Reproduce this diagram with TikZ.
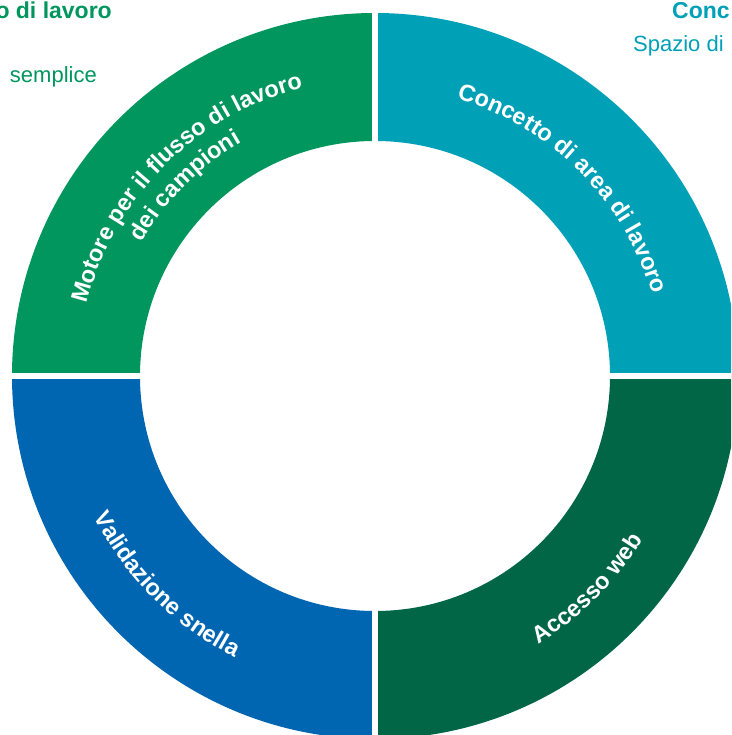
\documentclass[tikz,border=0pt]{standalone}
\usepackage{fontspec}
\setmainfont{Liberation Sans}
\usepackage{xcolor}
\usepackage{tikz}
\usetikzlibrary{decorations.text}
\definecolor{wfgreen}{RGB}{0,150,94}
\definecolor{wfteal}{RGB}{0,160,183}
\definecolor{wfdark}{RGB}{0,102,70}
\definecolor{wfblue}{RGB}{0,102,178}
\tikzstyle{gap}=[draw=white,line width=6pt]
\tikzstyle{headline}=[inner sep=0pt,font=\bfseries\fontsize{23}{27}\selectfont]
\tikzstyle{subline}=[inner sep=0pt,font=\fontsize{22}{26}\selectfont]
\newcommand{\ringfont}{\bfseries\fontsize{23.5}{28}\selectfont}
\tikzset{ringtext/.style={decorate,decoration={text along path,text align=center,text color=white,text={|\ringfont|#1}}}}

\begin{document}
\begin{tikzpicture}[x=1pt,y=1pt]

  \useasboundingbox (0,0) rectangle (731,735);
  \clip (0,0) rectangle (731,735);

  \def\R{363};
  \def\r{235};
  \coordinate (c) at (375,359);

  % quadrants of the ring
  \foreach \a/\col in {0/wfteal, 90/wfgreen, 180/wfblue, 270/wfdark}
     \fill[\col] ([shift={(c)}]\a:\R) arc[start angle=\a, delta angle=90, radius=\R]
        -- ([shift={(c)}]\a+90:\r) arc[start angle=\a+90, delta angle=-90, radius=\r] -- cycle;

  \draw[gap] ([shift={(c)}]180:380) -- ([shift={(c)}]0:380);
  \draw[gap] ([shift={(c)}]90:380) -- ([shift={(c)}]270:380);

  % texts along the ring
  \path[ringtext={Concetto di area di lavoro}] ([shift={(c)}]90:289) arc[start angle=90, end angle=0, radius=289];
  \path[ringtext={Motore per il flusso di lavoro}] ([shift={(c)}]180:297) arc[start angle=180, end angle=90, radius=297];
  \path[ringtext={dei campioni}] ([shift={(c)}]180:269) arc[start angle=180, end angle=90, radius=269];
  \path[ringtext={Validazione snella}] ([shift={(c)}]180:314) arc[start angle=180, end angle=270, radius=314];
  \path[ringtext={Accesso web}] ([shift={(c)}]270:314) arc[start angle=270, end angle=360, radius=314];

  % cut off captions at the top
  \node[headline, text=wfgreen, anchor=base east] (capleft) at (112,716.5) {o di lavoro};
  \node[subline, text=wfgreen, anchor=base east] (subleft) at (97,652) {semplice};
  \node[headline, text=wfteal, anchor=base west] (capright) at (672,716) {Conc};
  \node[subline, text=wfteal, anchor=base west] (subright) at (633,683) {Spazio di};

\end{tikzpicture}
\end{document}
